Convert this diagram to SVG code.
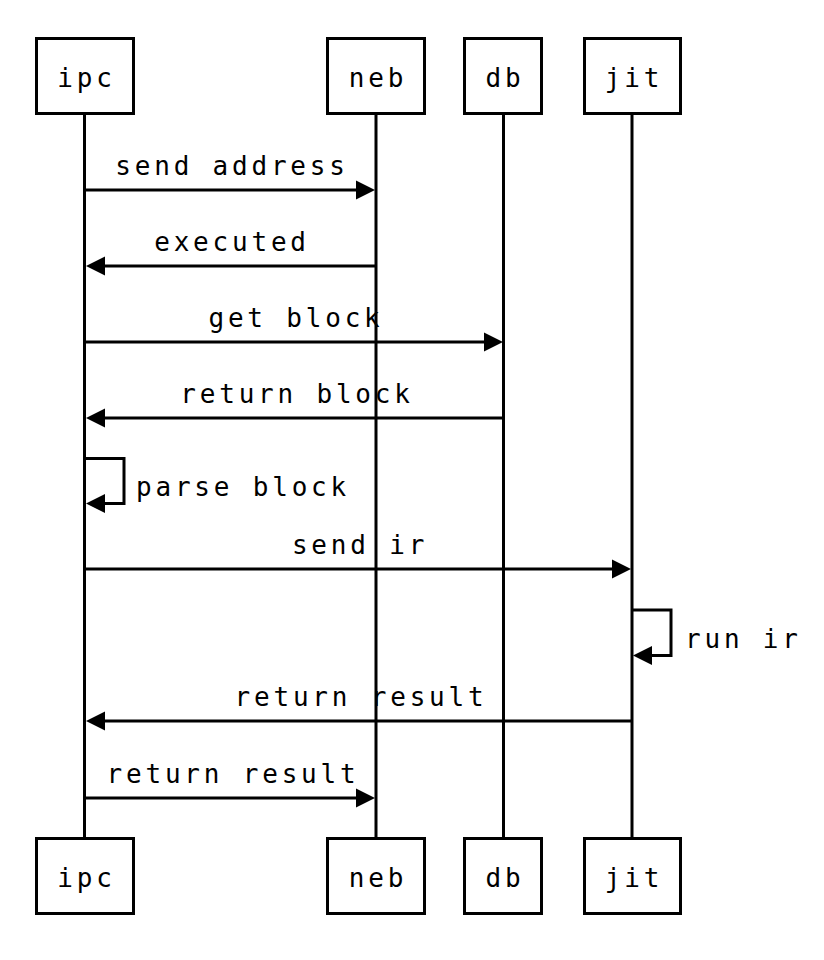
<svg xmlns="http://www.w3.org/2000/svg" width="824" height="960" viewBox="0 0 824 960">
<style>
.box{fill:#fff;stroke:#000;stroke-width:3}
.life{stroke:#000;stroke-width:3}
.msg{stroke:#000;stroke-width:3;fill:none;marker-end:url(#ah)}
text{font-family:"DejaVu Sans Mono","Liberation Mono",monospace;font-size:26px;fill:#000;letter-spacing:3.8px}
.c{text-anchor:middle}
</style>
<defs>
<marker id="ah" markerUnits="userSpaceOnUse" markerWidth="20" markerHeight="20" viewBox="0 0 20 20" refX="0" refY="10" orient="auto">
<path d="M0,0.5 L19,10 L0,19.5 z" fill="#000"/>
</marker>
</defs>
<g id="lifelines">
<line class="life" x1="84.5" y1="114" x2="84.5" y2="838"/>
<line class="life" x1="376" y1="114" x2="376" y2="838"/>
<line class="life" x1="503.5" y1="114" x2="503.5" y2="838"/>
<line class="life" x1="632" y1="114" x2="632" y2="838"/>
</g>
<g id="ipc-top"><rect class="box" x="36.5" y="38.5" width="97" height="75"/><text class="c" x="86.5" y="87">ipc</text></g>
<g id="neb-top"><rect class="box" x="327.5" y="38.5" width="97" height="75"/><text class="c" x="378" y="87">neb</text></g>
<g id="db-top"><rect class="box" x="464.5" y="38.5" width="77" height="75"/><text class="c" x="505" y="87">db</text></g>
<g id="jit-top"><rect class="box" x="584.5" y="38.5" width="96" height="75"/><text class="c" x="634" y="87">jit</text></g>
<g id="ipc-bottom"><rect class="box" x="36.5" y="838.5" width="97" height="75"/><text class="c" x="86.5" y="887">ipc</text></g>
<g id="neb-bottom"><rect class="box" x="327.5" y="838.5" width="97" height="75"/><text class="c" x="378" y="887">neb</text></g>
<g id="db-bottom"><rect class="box" x="464.5" y="838.5" width="77" height="75"/><text class="c" x="505" y="887">db</text></g>
<g id="jit-bottom"><rect class="box" x="584.5" y="838.5" width="96" height="75"/><text class="c" x="634" y="887">jit</text></g>
<g id="connectors">
<line class="msg" x1="84.5" y1="190" x2="356" y2="190"/>
<text class="c" x="232" y="175">send address</text>
<line class="msg" x1="376" y1="266" x2="105" y2="266"/>
<text class="c" x="232" y="251">executed</text>
<line class="msg" x1="84.5" y1="342" x2="484" y2="342"/>
<text class="c" x="296" y="327">get block</text>
<line class="msg" x1="503.5" y1="418" x2="105" y2="418"/>
<text class="c" x="297" y="403">return block</text>
<path class="msg" d="M84.5,458.5 H124 V503.5 H105"/>
<text x="136" y="496">parse block</text>
<line class="msg" x1="84.5" y1="569" x2="612" y2="569"/>
<text class="c" x="360" y="554">send ir</text>
<path class="msg" d="M632,610 H671 V655.5 H652"/>
<text x="685" y="648">run ir</text>
<line class="msg" x1="632" y1="721" x2="105" y2="721"/>
<text class="c" x="361" y="706">return result</text>
<line class="msg" x1="84.5" y1="798" x2="356" y2="798"/>
<text class="c" x="233" y="783">return result</text>
</g>
</svg>
